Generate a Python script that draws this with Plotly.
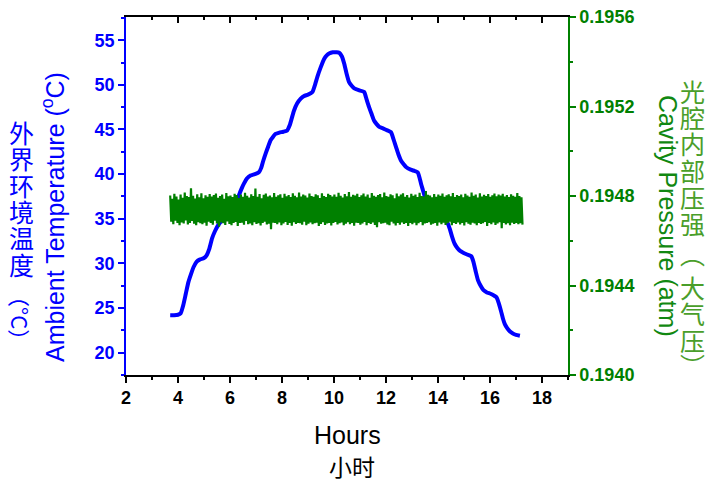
import numpy as np
import plotly.graph_objects as go

# ---------------- data ----------------
temp_hours = [3.70, 3.85, 4.00, 4.10, 4.20, 4.30, 4.40, 4.50, 4.60, 4.72, 4.85, 5.00, 5.10,
              5.20, 5.31, 5.42, 5.55, 5.70, 5.85, 6.00, 6.10, 6.20, 6.34, 6.45, 6.53, 6.65,
              6.79, 6.95, 7.11, 7.20, 7.28, 7.37, 7.47, 7.56, 7.66, 7.75, 7.90, 8.05, 8.20,
              8.30, 8.38, 8.46, 8.58, 8.72, 8.85, 9.00, 9.17, 9.26, 9.36, 9.48, 9.62, 9.72,
              9.81, 9.95, 10.10, 10.20, 10.30, 10.39, 10.48, 10.58, 10.68, 10.78, 10.95, 11.16,
              11.25, 11.35, 11.45, 11.54, 11.64, 11.74, 11.90, 12.05, 12.19, 12.29, 12.39, 12.48,
              12.58, 12.68, 12.77, 12.95, 13.10, 13.22, 13.29, 13.35, 13.42, 13.48, 13.58, 13.70,
              13.85, 14.00, 14.12, 14.22, 14.30, 14.36, 14.45, 14.54, 14.64, 14.75, 14.85, 14.97,
              15.12, 15.28, 15.36, 15.45, 15.54, 15.64, 15.75, 15.88, 16.02, 16.15, 16.25, 16.33,
              16.42, 16.50, 16.57, 16.66, 16.76, 16.88, 17.00, 17.15]
temp_values = [24.2, 24.2, 24.25, 24.4, 25.3, 26.6, 27.9, 28.8, 29.6, 30.2, 30.45, 30.6, 30.9,
               31.6, 32.8, 33.6, 34.3, 34.8, 35.1, 35.3, 35.6, 36.3, 37.6, 38.4, 38.9, 39.5,
               39.85, 40.0, 40.2, 40.7, 41.5, 42.3, 43.1, 43.8, 44.2, 44.5, 44.65, 44.75, 44.9,
               45.5, 46.3, 47.1, 47.9, 48.45, 48.75, 48.9, 49.2, 49.9, 50.9, 51.9, 52.9, 53.3,
               53.5, 53.65, 53.65, 53.6, 53.2, 52.4, 51.3, 50.3, 49.9, 49.6, 49.4, 49.2,
               48.4, 47.5, 46.7, 46.0, 45.6, 45.3, 45.1, 44.9, 44.7, 43.9, 43.0, 42.2,
               41.5, 41.1, 40.8, 40.5, 40.35, 40.2, 39.6, 38.9, 38.2, 37.6, 36.8, 36.1,
               35.7, 35.5, 35.3, 35.1, 34.9, 34.6, 33.9, 33.0, 32.2, 31.7, 31.4, 31.2,
               31.0, 30.8, 30.2, 29.1, 28.1, 27.5, 27.0, 26.75, 26.6, 26.4, 26.2, 25.6,
               24.7, 23.8, 23.2, 22.75, 22.4, 22.15, 22.0, 21.9]

pressure_start_hour = 3.70
pressure_end_hour = 17.25
pressure_base = 0.19474          # atm
pressure_offset_uatm = [         # offsets in 1e-6 atm
    62, -55, 48, -66, 70, -50, 58, -61, 44, -70, 66, -58, 52, -63, 75, -49, 60, -67, 55, -60,
    95, -52, 61, -64, 49, -71, 68, -57, 54, -62, 72, -66, 50, -59, 63, -73, 57, -55, 69, -61,
    58, -68, 64, -50, 71, -63, 52, -77, 60, -58, 66, -62, 47, -69, 73, -54, 59, -65, 62, -71,
    55, -60, 70, -56, 64, -74, 51, -61, 67, -59, 57, -68, 74, -52, 61, -66, 53, -63, 68, -70,
    60, -57, 93, -65, 56, -62, 69, -72, 50, -60, 65, -55, 71, -67, 58, -64, 62, -88, 54, -59,
    73, -61, 57, -66, 63, -58, 68, -70, 52, -63, 70, -56, 59, -69, 64, -60, 55, -73, 72, -57,
    61, -65, 54, -61, 76, -62, 58, -68, 66, -55, 62, -71, 53, -64, 71, -58, 60, -66, 57, -62,
    68, -59, 63, -74, 51, -65, 72, -57, 60, -69, 55, -63, 70, -60, 64, -72, 58, -61, 67, -56,
    57, -67, 74, -62, 61, -58, 53, -70, 69, -64, 59, -57, 78, -66, 56, -61, 65, -73, 62, -59,
    70, -60, 55, -68, 63, -63, 71, -56, 58, -71, 66, -60, 52, -65, 73, -58, 61, -69, 56, -80,
    64, -57, 69, -64, 54, -62, 75, -59, 60, -67, 57, -70, 68, -55, 63, -63, 50, -72, 71, -61,
    59, -68, 66, -58, 72, -65, 56, -61, 64, -74, 53, -60, 70, -66, 61, -59, 67, -71, 55, -62,
    74, -56, 60, -70, 58, -63, 82, -60, 65, -57, 62, -68, 54, -64, 69, -61, 57, -73, 66, -58,
    61, -66, 71, -59, 56, -69, 63, -62, 68, -55, 59, -71, 73, -60, 55, -65, 64, -58, 60, -67,
    67, -61, 54, -72, 70, -57, 62, -64, 57, -68, 75, -59, 61, -63, 66, -70, 53, -60, 72, -65,
    58, -62, 65, -56, 60, -74, 69, -61, 56, -66, 63, -58, 71, -69, 59, -63, 67, -57, 62, -84,
    70, -60, 58, -67, 64, -62, 55, -71, 68, -59, 61, -65, 57, -60, 73, -66, 60, -62, 54, -68,
]

x_range = [2, 19]
temp_range = [17.5, 57.6]
pressure_range = [0.1940, 0.1956]

# ---------------- figure ----------------
W, H = 705, 480
L, R, T, B = 126, 568, 17, 375
pw, ph = R - L, B - T

def px(xp):
    return (xp - L) / pw

def py(yp):
    return (B - yp) / ph

pressure_hours = np.linspace(pressure_start_hour, pressure_end_hour, len(pressure_offset_uatm))
pressure_values = [pressure_base + v * 1e-6 for v in pressure_offset_uatm]

BLUE = "#0000FF"
GREEN = "#008000"
TICKFONT = "Liberation Sans, Arial"

fig = go.Figure()
fig.add_trace(go.Scatter(x=pressure_hours, y=pressure_values, mode="lines",
                         line=dict(color=GREEN, width=2.2), yaxis="y2", showlegend=False))
fig.add_trace(go.Scatter(x=temp_hours, y=temp_values, mode="lines",
                         line=dict(color=BLUE, width=4, shape="spline", smoothing=0.5),
                         showlegend=False))
# dummy trace for top mirror axis
fig.add_trace(go.Scatter(x=[None], y=[None], xaxis="x2", showlegend=False))

fig.update_layout(
    width=W, height=H,
    margin=dict(l=L, r=W - R, t=T, b=H - B, autoexpand=False),
    plot_bgcolor="white", paper_bgcolor="white",
    xaxis=dict(range=x_range, dtick=2, tick0=0, showgrid=False, zeroline=False, automargin=False,
               showline=True, linecolor="black", linewidth=1.5,
               ticks="outside", ticklen=6, tickwidth=1.5, tickcolor="black",
               minor=dict(dtick=1, ticks="outside", ticklen=3, tickwidth=1.5, tickcolor="black"),
               tickfont=dict(family=TICKFONT, size=18, color="black", weight="bold")),
    xaxis2=dict(range=x_range, overlaying="x", side="top", showgrid=False, zeroline=False,
                automargin=False,
                showline=True, linecolor="black", linewidth=1.5, showticklabels=False,
                dtick=2, tick0=0, ticks="inside", ticklen=6, tickwidth=1.5, tickcolor="black",
                minor=dict(dtick=1, ticks="inside", ticklen=3, tickwidth=1.5, tickcolor="black")),
    yaxis=dict(range=temp_range, dtick=5, tick0=0, showgrid=False, zeroline=False, automargin=False,
               showline=True, linecolor=BLUE, linewidth=1.5,
               ticks="outside", ticklen=6, tickwidth=1.5, tickcolor=BLUE,
               minor=dict(dtick=2.5, ticks="outside", ticklen=3, tickwidth=1.5, tickcolor=BLUE),
               tickfont=dict(family=TICKFONT, size=18, color=BLUE, weight="bold")),
    yaxis2=dict(range=pressure_range, overlaying="y", side="right", dtick=0.0004,
                tick0=0.1940, tickformat=".4f", showgrid=False, zeroline=False, automargin=False,
                showline=True, linecolor=GREEN, linewidth=1.5,
                ticks="outside", ticklen=6, tickwidth=1.5, tickcolor=GREEN,
                minor=dict(dtick=0.0002, ticks="outside", ticklen=3, tickwidth=1.5, tickcolor=GREEN),
                tickfont=dict(family=TICKFONT, size=18, color=GREEN, weight="bold")),
)

ann = []
CJK = "Noto Sans CJK SC"

def add_text(text, xp, yp, size, color, family, angle=0):
    ann.append(dict(text=text, x=px(xp), y=py(yp), xref="paper", yref="paper",
                    xanchor="center", yanchor="middle", textangle=angle, showarrow=False,
                    font=dict(family=family, size=size, color=color)))

# bottom titles
add_text("Hours", 347, 435, 25, "black", "Liberation Sans, Arial")
add_text("小时", 352, 466, 23, "black", CJK)
# left titles
add_text("Ambient Temperature (<sup>o</sup>C)", 53, 217, 25, BLUE, "Liberation Sans, Arial", -90)
left_chars = ["外", "界", "环", "境", "温", "度"]
for i, ch in enumerate(left_chars):
    add_text(ch, 21, 132 + 26.3 * i, 25, BLUE, CJK)
add_text("（°C）", 21, 318, 22, BLUE, CJK, 90)
# right titles
add_text("Cavity Pressure (atm)", 668, 216, 25, "#118811", "Liberation Sans, Arial", 90)
right_chars = ["光", "腔", "内", "部", "压", "强", "︵", "大", "气", "压", "︶"]
right_y = [91, 117, 143, 170, 197, 223, 253, 287, 313, 340, 365]
for ch, yy in zip(right_chars, right_y):
    add_text(ch, 692, yy, 25, "#4A9E2A", CJK)
fig.update_layout(annotations=ann)

fig.write_html("out.html")
